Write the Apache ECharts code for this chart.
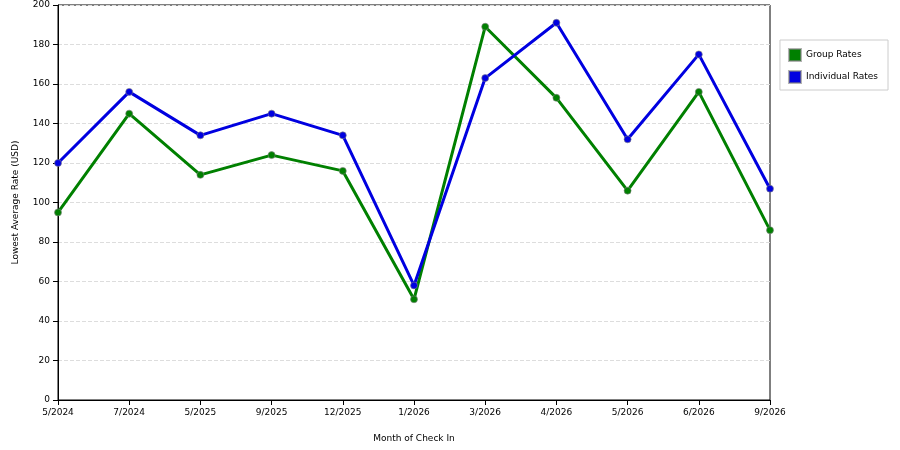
<!DOCTYPE html>
<html><head><meta charset="utf-8">
<script src="https://cdn.jsdelivr.net/npm/echarts@6/dist/echarts.min.js"></script>
<style>body{margin:0;background:#fff}#c{width:900px;height:450px}</style></head>
<body><div id="c"></div>
<script>
const categories=['5/2024','7/2024','5/2025','9/2025','12/2025','1/2026','3/2026','4/2026','5/2026','6/2026','9/2026'];
const groupRates=[95,145,114,124,116,51,189,153,106,156,86];
const individualRates=[120,156,134,145,134,58,163,191,132,175,107];
const yTicks=[0,20,40,60,80,100,120,140,160,180,200];
const f='DejaVu Sans';
const chart=echarts.init(document.getElementById('c'));
const mk=(name,data,color)=>({name,type:'line',data,symbol:'circle',symbolSize:7,
 lineStyle:{color,width:3},itemStyle:{color,borderColor:'rgba(128,128,128,0.6)',borderWidth:1},z:name==='Group Rates'?2:3});
chart.setOption({
 animation:false,
 grid:{left:58,right:130,top:5,bottom:50,show:true,borderColor:'#000',borderWidth:1,backgroundColor:'transparent'},
 legend:{orient:'vertical',right:12,top:40,data:['Group Rates','Individual Rates'],icon:'rect',itemWidth:12,itemHeight:12,
  backgroundColor:'#fff',borderColor:'#ccc',borderWidth:1,padding:[8,10,6,8],itemGap:8,
  textStyle:{fontFamily:f,fontSize:9,color:'#000'}},
 xAxis:{type:'category',data:categories,boundaryGap:false,name:'Month of Check In',nameLocation:'middle',nameGap:34,
  nameTextStyle:{fontFamily:f,fontSize:9,color:'#000'},
  axisLine:{lineStyle:{color:'#000'}},axisTick:{show:true,lineStyle:{color:'#000'}},
  axisLabel:{fontFamily:f,fontSize:9,color:'#000',interval:0},
  splitLine:{show:false}},
 yAxis:{type:'value',min:0,max:200,interval:20,name:'Lowest Average Rate (USD)',nameLocation:'middle',nameGap:38,
  nameTextStyle:{fontFamily:f,fontSize:9,color:'#000'},
  axisLine:{show:true,lineStyle:{color:'#000'}},axisTick:{show:true,lineStyle:{color:'#000'}},
  axisLabel:{fontFamily:f,fontSize:9,color:'#000',formatter:v=>yTicks.includes(v)?String(v):''},
  splitLine:{lineStyle:{color:'#ddd',type:'dashed'}}},
 series:[mk('Group Rates',groupRates,'#008000'),mk('Individual Rates',individualRates,'#0000e0')]
});
</script></body></html>
